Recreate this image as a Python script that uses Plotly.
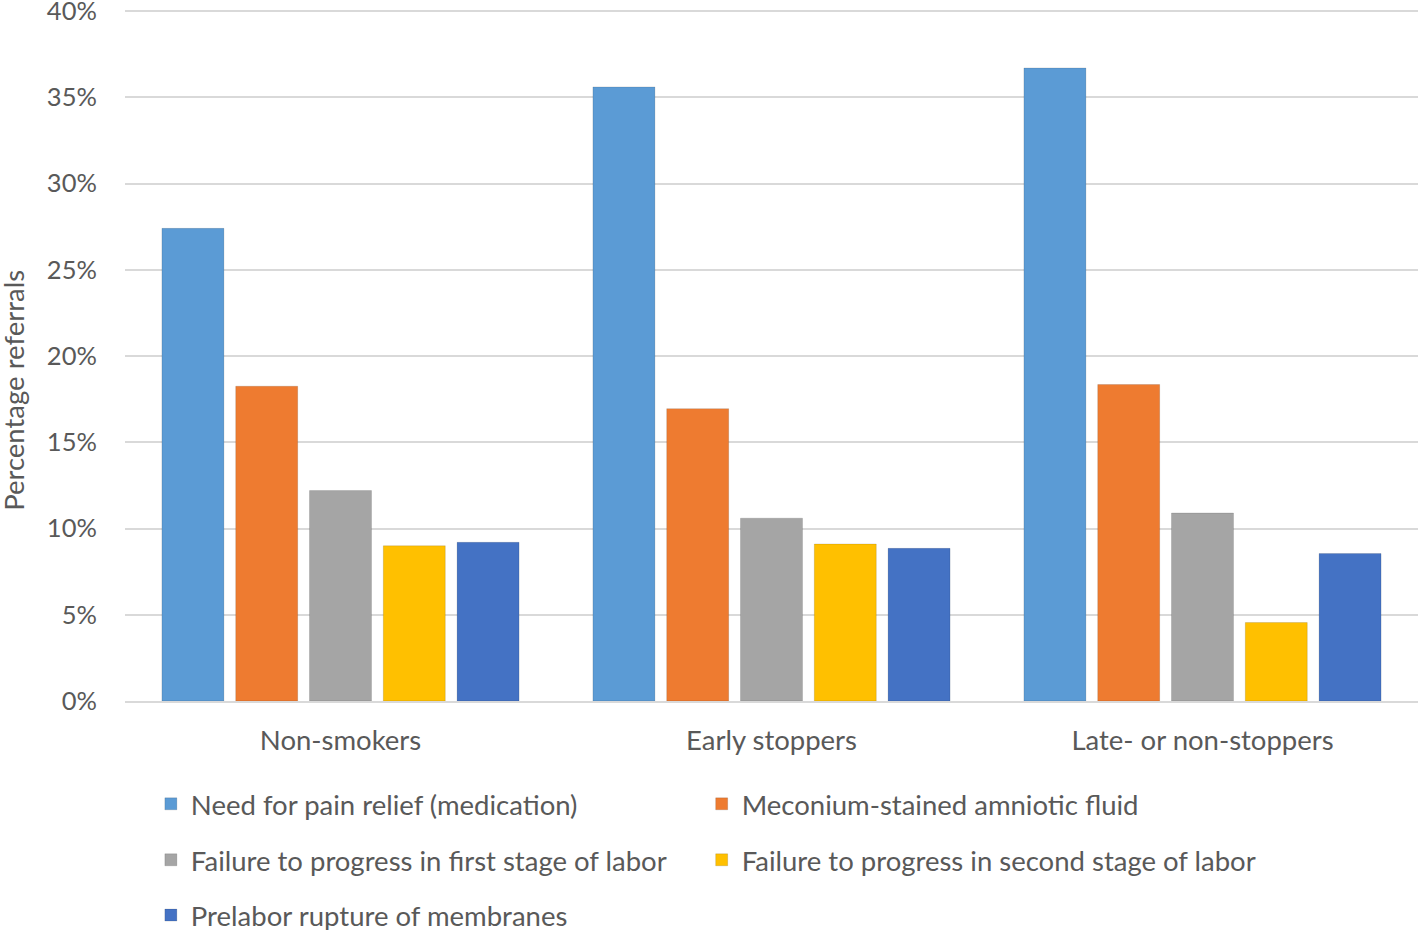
import plotly.graph_objects as go

categories = ["Non-smokers", "Early stoppers", "Late- or non-stoppers"]
series_names = [
    "Need for pain relief (medication)",
    "Meconium-stained amniotic fluid",
    "Failure to progress in first stage of labor",
    "Failure to progress in second stage of labor",
    "Prelabor rupture of membranes",
]
pain_relief = [27.4, 35.6, 36.7]
meconium = [18.25, 16.95, 18.35]
first_stage = [12.2, 10.6, 10.9]
second_stage = [9.0, 9.1, 4.55]
prelabor_rupture = [9.2, 8.85, 8.55]
values = [pain_relief, meconium, first_stage, second_stage, prelabor_rupture]

colors = ["#5B9BD5", "#EE7B30", "#A5A5A5", "#FFC000", "#4472C4"]

FONT = "Lato"
TXT = "#595959"
FS = 27.5

# one legend box per entry, laid out in two columns
legend_ids = ["legend", "legend2", "legend3", "legend4", "legend5"]
legend_pos = [(0.020, -0.149), (0.446, -0.149),
              (0.020, -0.230), (0.446, -0.230),
              (0.020, -0.310)]

fig = go.Figure()
for name, vals, col, lg in zip(series_names, values, colors, legend_ids):
    fig.add_trace(go.Bar(
        x=categories, y=vals, name=name, showlegend=True,
        marker=dict(color=col, line=dict(color="rgba(0,0,0,0.12)", width=1)),
        legend=lg,
    ))

leg_common = dict(
    orientation="h", xanchor="left", yanchor="middle",
    font=dict(family=FONT, size=FS, color=TXT),
    bgcolor="rgba(0,0,0,0)",
    itemclick=False, itemdoubleclick=False,
)
legend_layout = {lg: dict(x=px, y=py, **leg_common)
                 for lg, (px, py) in zip(legend_ids, legend_pos)}

fig.update_layout(
    width=1424, height=930, showlegend=True,
    margin=dict(l=125, r=6, t=10, b=229, autoexpand=False),
    paper_bgcolor="white", plot_bgcolor="white",
    barmode="group", bargap=0.144, bargroupgap=0.16,
    font=dict(family=FONT, size=FS, color=TXT),
    **legend_layout,
    xaxis=dict(
        showgrid=False, showline=True, linecolor="#D9D9D9", linewidth=2,
        ticks="outside", ticklen=14, tickcolor="rgba(0,0,0,0)",
        tickfont=dict(family=FONT, size=FS, color=TXT),
    ),
    yaxis=dict(
        range=[0, 40.06], tick0=0, dtick=5, ticksuffix="%",
        showgrid=True, gridcolor="#D9D9D9", gridwidth=1.5,
        zeroline=False, showline=False,
        ticks="outside", ticklen=22, tickcolor="rgba(0,0,0,0)",
        tickfont=dict(family=FONT, size=25.5, color=TXT),
        ticklabeloverflow="allow",
        automargin=False,
    ),
    annotations=[dict(
        text="Percentage referrals", textangle=-90,
        xref="paper", yref="paper", x=-0.0868, y=0.450,
        xanchor="center", yanchor="middle", showarrow=False,
        font=dict(family=FONT, size=FS, color=TXT),
    )],
)

# remove the default page margin so the chart sits at the window's corner
fig.write_html(
    "out.html",
    config={"displayModeBar": False},
    post_script="document.body.style.margin='0';",
)
